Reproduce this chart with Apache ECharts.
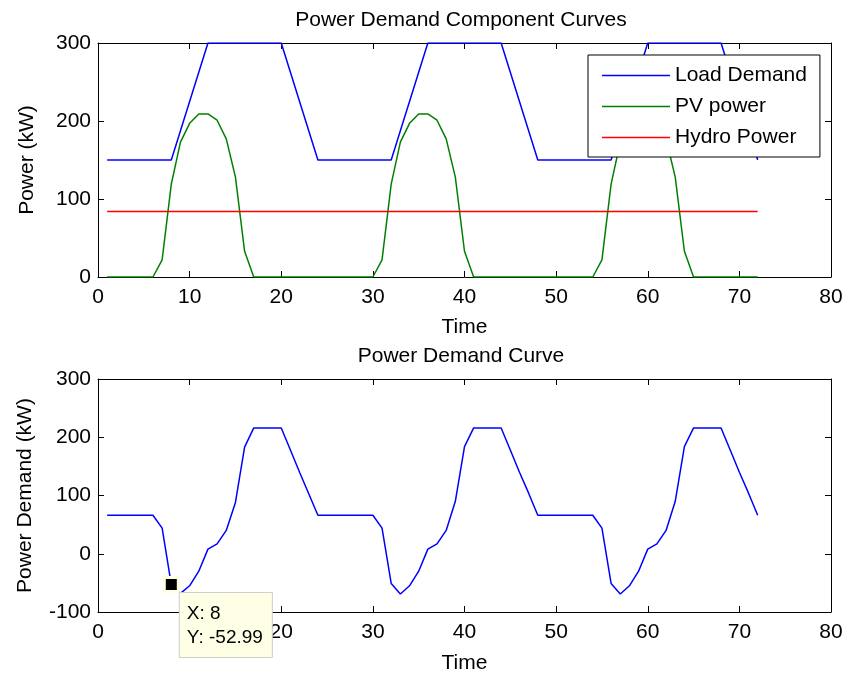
<!DOCTYPE html>
<html>
<head>
<meta charset="utf-8">
<script src="https://cdn.jsdelivr.net/npm/echarts@6/dist/echarts.min.js"></script>
<style>
  html, body { margin: 0; padding: 0; background: #ffffff; }
  #chart { width: 846px; height: 675px; }
</style>
</head>
<body>
<div id="chart"></div>
<script>
// Hourly samples over three days
const hours = [
   1,  2,  3,  4,  5,  6,  7,  8,  9, 10, 11, 12, 13, 14, 15, 16, 17, 18, 19, 20, 21, 22, 23, 24,
  25, 26, 27, 28, 29, 30, 31, 32, 33, 34, 35, 36, 37, 38, 39, 40, 41, 42, 43, 44, 45, 46, 47, 48,
  49, 50, 51, 52, 53, 54, 55, 56, 57, 58, 59, 60, 61, 62, 63, 64, 65, 66, 67, 68, 69, 70, 71, 72
];

// Load demand (kW)
const loadDemand = [
  150, 150, 150, 150, 150, 150, 150, 150, 187.5, 225, 262.5, 300, 300, 300, 300, 300, 300, 300, 300, 300, 262.5, 225, 187.5, 150,
  150, 150, 150, 150, 150, 150, 150, 150, 187.5, 225, 262.5, 300, 300, 300, 300, 300, 300, 300, 300, 300, 262.5, 225, 187.5, 150,
  150, 150, 150, 150, 150, 150, 150, 150, 187.5, 225, 262.5, 300, 300, 300, 300, 300, 300, 300, 300, 300, 262.5, 225, 187.5, 150
];

// Photovoltaic output (kW)
const pvPower = [
  0, 0, 0, 0, 0, 0, 22, 119, 173, 197, 209, 209, 201, 177, 128, 33, 0, 0, 0, 0, 0, 0, 0, 0,
  0, 0, 0, 0, 0, 0, 22, 119, 173, 197, 209, 209, 201, 177, 128, 33, 0, 0, 0, 0, 0, 0, 0, 0,
  0, 0, 0, 0, 0, 0, 22, 119, 173, 197, 209, 209, 201, 177, 128, 33, 0, 0, 0, 0, 0, 0, 0, 0
];

// Hydro output (kW)
const hydroPower = [
  84, 84, 84, 84, 84, 84, 84, 84, 84, 84, 84, 84, 84, 84, 84, 84, 84, 84, 84, 84, 84, 84, 84, 84,
  84, 84, 84, 84, 84, 84, 84, 84, 84, 84, 84, 84, 84, 84, 84, 84, 84, 84, 84, 84, 84, 84, 84, 84,
  84, 84, 84, 84, 84, 84, 84, 84, 84, 84, 84, 84, 84, 84, 84, 84, 84, 84, 84, 84, 84, 84, 84, 84
];

// Net power demand (kW)
const powerDemand = [
  66, 66, 66, 66, 66, 66, 44, -52.99, -68, -55, -30, 8, 17, 40, 88, 183, 216, 216, 216, 216, 178, 140, 103, 66,
  66, 66, 66, 66, 66, 66, 44, -51, -69, -55, -30, 8, 17, 40, 90, 184, 216, 216, 216, 216, 178, 140, 104, 66,
  66, 66, 66, 66, 66, 66, 44, -51, -69, -55, -30, 8, 17, 40, 90, 184, 216, 216, 216, 216, 178, 140, 104, 66
];

// Data cursor placed on the 8th hour
const tipIndex = 7;

const FONT = '"Liberation Sans", Arial, Helvetica, sans-serif';
const BLACK = '#000000';
const LINE_W = 1.5;

function pairs(ys) {
  return hours.map((h, i) => [h, ys[i]]);
}

function xAxisPair(gridIndex, nameGap) {
  const common = {
    gridIndex: gridIndex,
    type: 'value',
    min: 0, max: 80, interval: 10,
    splitLine: { show: false },
    axisLine: { show: true, onZero: false, lineStyle: { color: BLACK, width: 1 } },
    axisTick: { show: true, inside: true, length: 6, lineStyle: { color: BLACK, width: 1 } }
  };
  return [
    Object.assign({}, common, {
      position: 'bottom',
      axisLabel: { show: true, margin: 10, color: BLACK, fontSize: 21, fontFamily: FONT },
      name: 'Time',
      nameLocation: 'middle',
      nameGap: nameGap,
      nameTextStyle: { color: BLACK, fontSize: 21, fontFamily: FONT }
    }),
    Object.assign({}, common, {
      position: 'top',
      axisLabel: { show: false }
    })
  ];
}

function yAxisPair(gridIndex, min, name, nameGap) {
  const common = {
    gridIndex: gridIndex,
    type: 'value',
    min: min, max: 300, interval: 100,
    splitLine: { show: false },
    axisLine: { show: true, onZero: false, lineStyle: { color: BLACK, width: 1 } },
    axisTick: { show: true, inside: true, length: 6, lineStyle: { color: BLACK, width: 1 } }
  };
  return [
    Object.assign({}, common, {
      position: 'left',
      axisLabel: { show: true, margin: 7, color: BLACK, fontSize: 21, fontFamily: FONT },
      name: name,
      nameLocation: 'middle',
      nameGap: nameGap,
      nameTextStyle: { color: BLACK, fontSize: 21, fontFamily: FONT }
    }),
    Object.assign({}, common, {
      position: 'right',
      axisLabel: { show: false }
    })
  ];
}

const titleStyle = { fontSize: 21, fontWeight: 'normal', fontFamily: FONT, color: BLACK };

const option = {
  backgroundColor: '#ffffff',
  animation: false,
  title: [
    { text: 'Power Demand Component Curves', left: 461, top: 10, textAlign: 'center', padding: 0, textStyle: titleStyle },
    { text: 'Power Demand Curve', left: 461, top: 346, textAlign: 'center', padding: 0, textStyle: titleStyle }
  ],
  legend: {
    orient: 'vertical',
    left: 588,
    top: 55,
    padding: [10, 13, 9, 14],
    itemGap: 10,
    itemWidth: 68,
    itemHeight: 1.6,
    icon: 'rect',
    selectedMode: false,
    backgroundColor: '#ffffff',
    borderColor: BLACK,
    borderWidth: 1,
    borderRadius: 0,
    textStyle: { color: BLACK, fontSize: 21, fontFamily: FONT, lineHeight: 21 },
    data: ['Load Demand', 'PV power', 'Hydro Power']
  },
  grid: [
    { left: 98, top: 43, width: 733, height: 234, show: false },
    { left: 98, top: 379, width: 733, height: 233, show: false }
  ],
  xAxis: [].concat(xAxisPair(0, 40), xAxisPair(1, 41)),
  yAxis: [].concat(yAxisPair(0, 0, 'Power (kW)', 60), yAxisPair(1, -100, 'Power Demand (kW)', 62)),
  series: [
    {
      name: 'Load Demand', type: 'line', xAxisIndex: 0, yAxisIndex: 0,
      data: pairs(loadDemand), symbol: 'none',
      lineStyle: { color: '#0000ff', width: LINE_W }, itemStyle: { color: '#0000ff' }
    },
    {
      name: 'PV power', type: 'line', xAxisIndex: 0, yAxisIndex: 0,
      data: pairs(pvPower), symbol: 'none',
      lineStyle: { color: '#008000', width: LINE_W }, itemStyle: { color: '#008000' }
    },
    {
      name: 'Hydro Power', type: 'line', xAxisIndex: 0, yAxisIndex: 0,
      data: pairs(hydroPower), symbol: 'none',
      lineStyle: { color: '#ff0000', width: LINE_W }, itemStyle: { color: '#ff0000' }
    },
    {
      name: 'Power Demand', type: 'line', xAxisIndex: 2, yAxisIndex: 2,
      data: pairs(powerDemand), symbol: 'none',
      lineStyle: { color: '#0000ff', width: LINE_W }, itemStyle: { color: '#0000ff' },
      markPoint: {
        silent: true,
        symbol: 'rect',
        symbolSize: 14,
        itemStyle: { color: BLACK, borderColor: '#ffffe1', borderWidth: 3 },
        data: [{ coord: [hours[tipIndex], powerDemand[tipIndex]], value: powerDemand[tipIndex] }],
        label: {
          show: true,
          position: [17, 17],
          align: 'left',
          verticalAlign: 'top',
          formatter: () => 'X: ' + hours[tipIndex] + '\nY: ' + powerDemand[tipIndex].toFixed(2),
          color: BLACK,
          fontSize: 19,
          fontFamily: FONT,
          lineHeight: 24,
          backgroundColor: '#ffffe6',
          borderColor: '#cfcfcf',
          borderWidth: 1,
          padding: [9, 9, 7, 7]
        }
      }
    }
  ]
};

const chart = echarts.init(document.getElementById('chart'), null, { renderer: 'canvas' });
chart.setOption(option);
</script>
</body>
</html>
